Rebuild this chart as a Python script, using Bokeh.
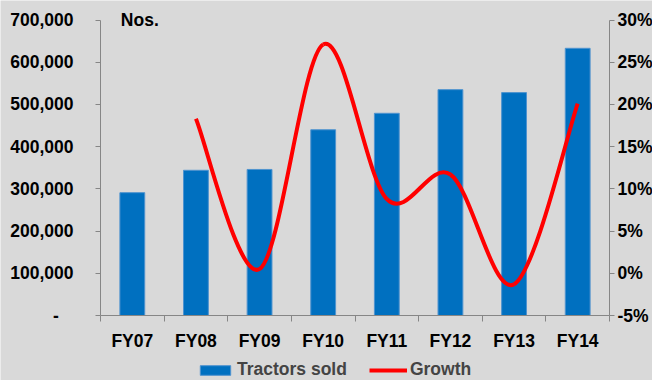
from bokeh.plotting import figure
from bokeh.models import (Range1d, LinearAxis, FixedTicker, Legend, LegendItem,
                          Label, ColumnDataSource)
from bokeh.embed import file_html
from bokeh.resources import INLINE

categories = ["FY07", "FY08", "FY09", "FY10", "FY11", "FY12", "FY13", "FY14"]
tractors_sold = [291000, 344000, 346000, 440000, 479000, 535000, 528000, 633000]
growth_pct = [None, 18.3, 0.5, 27.1, 8.8, 11.7, -1.3, 20.1]
left_ticks = [0, 100000, 200000, 300000, 400000, 500000, 600000, 700000]
right_ticks = [-5, 0, 5, 10, 15, 20, 25, 30]

BG = "#D9D9D9"
AXIS_GRAY = "#868686"
FONT = "Liberation Sans"
FS = "17.5px"

# canvas and plot-area placement in pixels
W, H = 652, 380
PX_L, PX_R = 100, 609      # left / right axis lines
PX_T, PX_B = 19.5, 315     # top tick / bottom axis line

ncat = len(categories)
xs = [i + 0.5 for i in range(ncat)]
lmin, lmax = left_ticks[0], left_ticks[-1]
rmin, rmax = right_ticks[0], right_ticks[-1]

ux = (PX_R - PX_L) / ncat
x_range = Range1d(-PX_L / ux, ncat + (W - PX_R) / ux)
uy_l = (PX_B - PX_T) / (lmax - lmin)
y_range = Range1d(lmin - (H - PX_B) / uy_l, lmax + PX_T / uy_l)
uy_r = (PX_B - PX_T) / (rmax - rmin)
pct_range = Range1d(rmin - (H - PX_B) / uy_r, rmax + PX_T / uy_r)

p = figure(width=W, height=H, output_backend="svg", toolbar_location=None,
           x_range=x_range, y_range=y_range, x_axis_location=None,
           y_axis_location=None, min_border=0)
p.extra_y_ranges = {"pct": pct_range}
p.background_fill_color = BG
p.border_fill_color = BG
p.outline_line_color = None
p.grid.visible = False

# bars
src = ColumnDataSource(dict(x=xs, top=tractors_sold))
bars = p.vbar(x="x", top="top", width=0.39, source=src, fill_color="#0070C0",
              line_color="#4F93CF", line_width=1)

# smoothed growth line (Excel-style Catmull-Rom bezier through the data points)
pts = [(xs[i], g) for i, g in enumerate(growth_pct) if g is not None]
n = len(pts)
seg = dict(x0=[], y0=[], x1=[], y1=[], cx0=[], cy0=[], cx1=[], cy1=[])
for i in range(n - 1):
    p0 = pts[i - 1] if i > 0 else pts[i]
    p1 = pts[i]
    p2 = pts[i + 1]
    p3 = pts[i + 2] if i + 2 < n else pts[i + 1]
    seg["x0"].append(p1[0]); seg["y0"].append(p1[1])
    seg["x1"].append(p2[0]); seg["y1"].append(p2[1])
    seg["cx0"].append(p1[0] + (p2[0] - p0[0]) / 6)
    seg["cy0"].append(p1[1] + (p2[1] - p0[1]) / 6)
    seg["cx1"].append(p2[0] - (p3[0] - p1[0]) / 6)
    seg["cy1"].append(p2[1] - (p3[1] - p1[1]) / 6)
line = p.bezier(x0="x0", y0="y0", x1="x1", y1="y1", cx0="cx0", cy0="cy0",
                cx1="cx1", cy1="cy1", source=ColumnDataSource(seg),
                line_color="#FF0000", line_width=4, y_range_name="pct")

# axes styling
def style_axis(ax):
    ax.axis_line_color = AXIS_GRAY
    ax.major_tick_line_color = AXIS_GRAY
    ax.minor_tick_line_color = AXIS_GRAY
    ax.major_label_text_font = FONT
    ax.major_label_text_font_style = "bold"
    ax.major_label_text_font_size = FS
    ax.major_label_text_color = "#000000"
    ax.major_tick_in = 0
    ax.minor_tick_in = 0

# bottom x axis
xa = LinearAxis(fixed_location=lmin, bounds=(0, ncat))
style_axis(xa)
xa.ticker = FixedTicker(ticks=xs, minor_ticks=list(range(ncat + 1)))
xa.major_label_overrides = {x: c for x, c in zip(xs, categories)}
xa.major_tick_line_color = None
xa.minor_tick_out = 6
xa.major_label_standoff = 9
p.add_layout(xa, "below")

# left y axis
ya = LinearAxis(fixed_location=0, bounds=(lmin, lmax))
style_axis(ya)
ya.ticker = FixedTicker(ticks=left_ticks, minor_ticks=[])
ya.major_label_overrides = {v: (f"{v:,}" if v != 0 else "-\u00a0\u00a0\u00a0") for v in left_ticks}
ya.major_tick_out = 5
ya.major_label_standoff = 22
p.add_layout(ya, "left")

# right y axis
ra = LinearAxis(y_range_name="pct", fixed_location=ncat, bounds=(rmin, rmax))
style_axis(ra)
ra.ticker = FixedTicker(ticks=right_ticks, minor_ticks=[])
ra.major_label_overrides = {v: f"{v}%" for v in right_ticks}
ra.major_tick_out = 5
ra.major_label_standoff = 3
p.add_layout(ra, "right")

# unit label
p.add_layout(Label(x=0.32, y=lmax, text="Nos.", text_font=FONT,
                   text_font_style="bold", text_font_size=FS,
                   text_baseline="middle", text_color="#000000"))

# legend below plot area
legend = Legend(items=[LegendItem(label="Tractors sold", renderers=[bars]),
                       LegendItem(label="Growth", renderers=[line])],
                orientation="horizontal", location=(196, 0),
                label_text_font=FONT, label_text_font_style="bold",
                label_text_font_size=FS, glyph_width=38, glyph_height=12,
                label_standoff=3, spacing=22, padding=0, margin=0,
                border_line_color=None, background_fill_alpha=0,
                label_height=19)
p.add_layout(legend, "center")

open("out.html", "w").write(file_html(p, INLINE))
